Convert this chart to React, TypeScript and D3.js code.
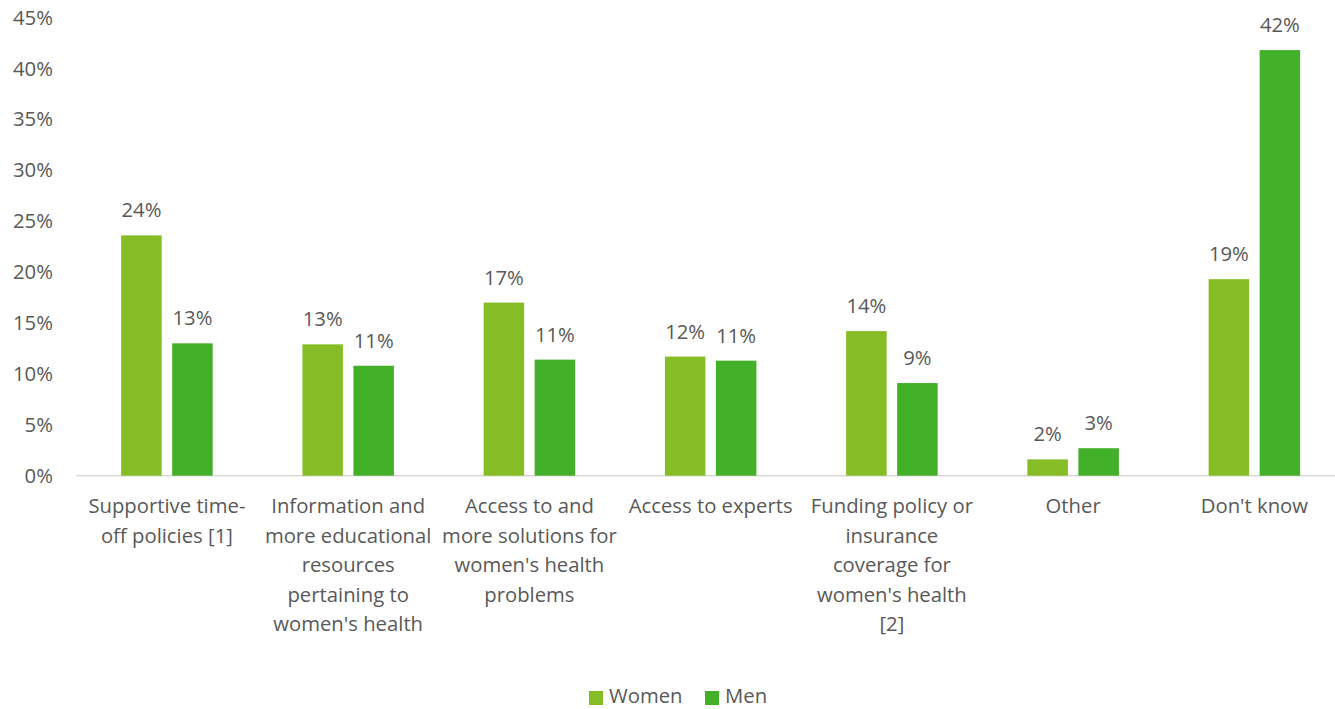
import React from "react";
import * as d3 from "d3";

const categories: string[][] = [
  ["Supportive time-", "off policies [1]"],
  ["Information and", "more educational", "resources", "pertaining to", "women's health"],
  ["Access to and", "more solutions for", "women's health", "problems"],
  ["Access to experts"],
  ["Funding policy or", "insurance", "coverage for", "women's health", "[2]"],
  ["Other"],
  ["Don't know"],
];
const women = [23.6, 12.9, 17.0, 11.7, 14.2, 1.6, 19.3];
const men = [13.0, 10.8, 11.4, 11.3, 9.1, 2.7, 41.8];
const yTicks = [0, 5, 10, 15, 20, 25, 30, 35, 40, 45];
const seriesNames = ["Women", "Men"];
const colors = ["#86BC25", "#43B02A"];

const W = 1335;
const H = 709;
const left = 76.3;
const right = 1345;
const top = 17.5;
const bottom = 475.7;
const FONT = "'Open Sans', sans-serif";
const TEXT = "#595959";
const FS = 20.3;

export default function App() {
  const x0 = d3.scaleBand<number>().domain(d3.range(categories.length)).range([left, right]);
  const y = d3.scaleLinear().domain([0, 45]).range([bottom, top]);
  const barW = 40.5;
  const gap = 10.5;
  const series = [women, men];
  return (
    <svg width={W} height={H} style={{ position: "absolute", left: 0, top: 0, background: "#fff" }}>
      {yTicks.map((t) => (
        <text key={t} x={53} y={y(t)} dy="0.35em" textAnchor="end" fontFamily={FONT} fontSize={FS} fill={TEXT}>
          {t}%
        </text>
      ))}
      <line x1={left} x2={W} y1={bottom} y2={bottom} stroke="#D9D9D9" strokeWidth={1.5} />
      {categories.map((c, i) => {
        const cx = x0(i)! + x0.bandwidth() / 2;
        return (
          <g key={i}>
            {series.map((s, k) => {
              const bx = k === 0 ? cx - gap / 2 - barW : cx + gap / 2;
              return (
                <g key={k}>
                  <rect x={bx} y={y(s[i])} width={barW} height={bottom - y(s[i])} fill={colors[k]} />
                  <text x={bx + barW / 2} y={y(s[i]) - 18} textAnchor="middle" fontFamily={FONT} fontSize={FS} fill={TEXT}>
                    {Math.round(s[i])}%
                  </text>
                </g>
              );
            })}
            {c.map((line, j) => (
              <text key={j} x={cx} y={513 + j * 29.5} textAnchor="middle" fontFamily={FONT} fontSize={FS} fill={TEXT}>
                {line}
              </text>
            ))}
          </g>
        );
      })}
      {seriesNames.map((n, k) => {
        const lx = k === 0 ? 589 : 705;
        return (
          <g key={n}>
            <rect x={lx} y={691} width={14} height={14} fill={colors[k]} />
            <text x={lx + 20} y={703} fontFamily={FONT} fontSize={FS} fill={TEXT}>
              {n}
            </text>
          </g>
        );
      })}
    </svg>
  );
}
